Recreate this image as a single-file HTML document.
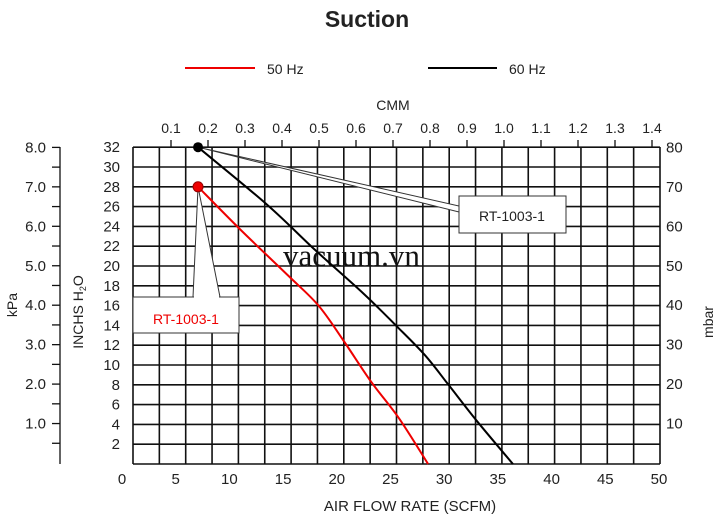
<!DOCTYPE html>
<html><head><meta charset="utf-8"><style>
body{margin:0;background:#fff;width:720px;height:520px;overflow:hidden}
svg text{font-family:"Liberation Sans",Arial,sans-serif;fill:#222}
</style></head><body>
<svg id="c" width="720" height="520" xmlns="http://www.w3.org/2000/svg">
<text x="367" y="27" text-anchor="middle" font-size="23" font-weight="bold">Suction</text>
<g>
<line x1="185" y1="68" x2="255" y2="68" stroke="#e00" stroke-width="2"/>
<text x="267" y="74" font-size="14">50 Hz</text>
<line x1="428" y1="68" x2="497" y2="68" stroke="#000" stroke-width="2"/>
<text x="509" y="74" font-size="14">60 Hz</text>
</g>
<g id="grid"></g>
<g id="axes"></g>
<text x="283" y="266" font-size="31" style="font-family:'Liberation Serif',serif;fill:#111">vacuum.vn</text>
<g id="series"></g>
<text x="393" y="110" text-anchor="middle" font-size="14">CMM</text>
<text x="410" y="511" text-anchor="middle" font-size="15">AIR FLOW RATE (SCFM)</text>
<text transform="translate(17,305) rotate(-90)" text-anchor="middle" font-size="14">kPa</text>
<text transform="translate(83,312) rotate(-90)" text-anchor="middle" font-size="14">INCHS  H<tspan font-size="9" dy="3">2</tspan><tspan dy="-3">O</tspan></text>
<text transform="translate(713,322) rotate(-90)" text-anchor="middle" font-size="14">mbar</text>
</svg>
<script>
const xTicks=[0,5,10,15,20,25,30,35,40,45,50];
const yTicks=[2,4,6,8,10,12,14,16,18,20,22,24,26,28,30,32];
const cmmTicks=[0.1,0.2,0.3,0.4,0.5,0.6,0.7,0.8,0.9,1.0,1.1,1.2,1.3,1.4];
const kpaTicks=[1.0,2.0,3.0,4.0,5.0,6.0,7.0,8.0];
const mbarTicks=[10,20,30,40,50,60,70,80];
const flow50=[7.08,11,15.5,18.3,20.6,23.2,25.8,28.5];
const inch50=[28,23.7,19,16,12.5,8.3,4.6,0];
const flow60=[7.08,13.5,18,22.5,25.5,28.2,30.4,33,36.4];
const inch60=[32,26.2,21.6,17.2,14,11,8,4.4,0];
const NS='http://www.w3.org/2000/svg';
const X=v=>122+v*10.74, Y=v=>464-v*9.9;
const CX=v=>134+v*370, KY=v=>463-v*39.45, MY=v=>463-v*3.945;
function mk(p,tag,a){const e=document.createElementNS(NS,tag);for(const k in a)e.setAttribute(k,a[k]);p.appendChild(e);return e;}
const g=document.getElementById('grid'),ax=document.getElementById('axes'),s=document.getElementById('series');
for(let i=0;i<=20;i++){const x=133+i*26.35;const l=mk(g,'line',{x1:x,y1:147,x2:x,y2:464,stroke:'#111','stroke-width':1.6});

}
for(let v=0;v<=32;v+=2){const l=mk(g,'line',{x1:133,y1:Y(v),x2:660,y2:Y(v),stroke:'#111','stroke-width':1.6});

}
xTicks.forEach(v=>{const t=mk(ax,'text',{x:X(v),y:484,'text-anchor':'middle','font-size':15});t.textContent=v;

});
yTicks.forEach(v=>{const t=mk(ax,'text',{x:120,y:Y(v)+5,'text-anchor':'end','font-size':15});t.textContent=v;

});
cmmTicks.forEach(v=>{const x=CX(v);mk(ax,'line',{x1:x,y1:140,x2:x,y2:147,stroke:'#111','stroke-width':1.3});
const t=mk(ax,'text',{x:x,y:133,'text-anchor':'middle','font-size':14});t.textContent=v.toFixed(1);

});
mk(ax,'line',{x1:60,y1:147,x2:60,y2:464,stroke:'#111','stroke-width':1.3});
for(let v=0.5;v<=8;v+=0.5)mk(ax,'line',{x1:52,y1:KY(v),x2:60,y2:KY(v),stroke:'#111','stroke-width':1.3});
kpaTicks.forEach(v=>{const t=mk(ax,'text',{x:46,y:KY(v)+5,'text-anchor':'end','font-size':15});t.textContent=v.toFixed(1);

});
mbarTicks.forEach(v=>{const t=mk(ax,'text',{x:666,y:MY(v)+5,'font-size':15});t.textContent=v;

});
function line(xs,ys,c,n){const P=xs.map((x,i)=>[X(x),Y(ys[i])]);let d='M'+P[0];
for(let i=0;i<P.length-1;i++){const p0=P[i-1]||P[i],p1=P[i],p2=P[i+1],p3=P[i+2]||P[i+1];
d+=` C${p1[0]+(p2[0]-p0[0])/6},${p1[1]+(p2[1]-p0[1])/6} ${p2[0]-(p3[0]-p1[0])/6},${p2[1]-(p3[1]-p1[1])/6} ${p2[0]},${p2[1]}`;}
const p=mk(s,'path',{d:d,fill:'none',stroke:c,'stroke-width':2});

}
line(flow50,inch50,'#e00','series-50hz');
line(flow60,inch60,'#000','series-60hz');
const bx=X(flow60[0]),by=Y(inch60[0]),rx=X(flow50[0]),ry=Y(inch50[0]);
let w=mk(s,'polygon',{points:`${bx},${by} 459,206 459,212`,fill:'#fff',stroke:'#333','stroke-width':1});


let b=mk(s,'rect',{x:459,y:196,width:107,height:37,fill:'#fff',stroke:'#333','stroke-width':1});


let t=mk(s,'text',{x:512,y:221,'text-anchor':'middle','font-size':14});t.textContent='RT-1003-1';


w=mk(s,'polygon',{points:`${rx},${ry} 193,297 220,297`,fill:'#fff',stroke:'#333','stroke-width':1});


b=mk(s,'rect',{x:133,y:297,width:106,height:36,fill:'#fff',stroke:'#333','stroke-width':1});


mk(s,'line',{x1:194,y1:297,x2:219,y2:297,stroke:'#fff','stroke-width':2});
t=mk(s,'text',{x:186,y:324,'text-anchor':'middle','font-size':14,style:'fill:#e00'});t.textContent='RT-1003-1';


let m=mk(s,'circle',{cx:bx,cy:by,r:5,fill:'#000'});


m=mk(s,'circle',{cx:rx,cy:ry,r:5,fill:'#e00',stroke:'#900'});


</script>
</body></html>
